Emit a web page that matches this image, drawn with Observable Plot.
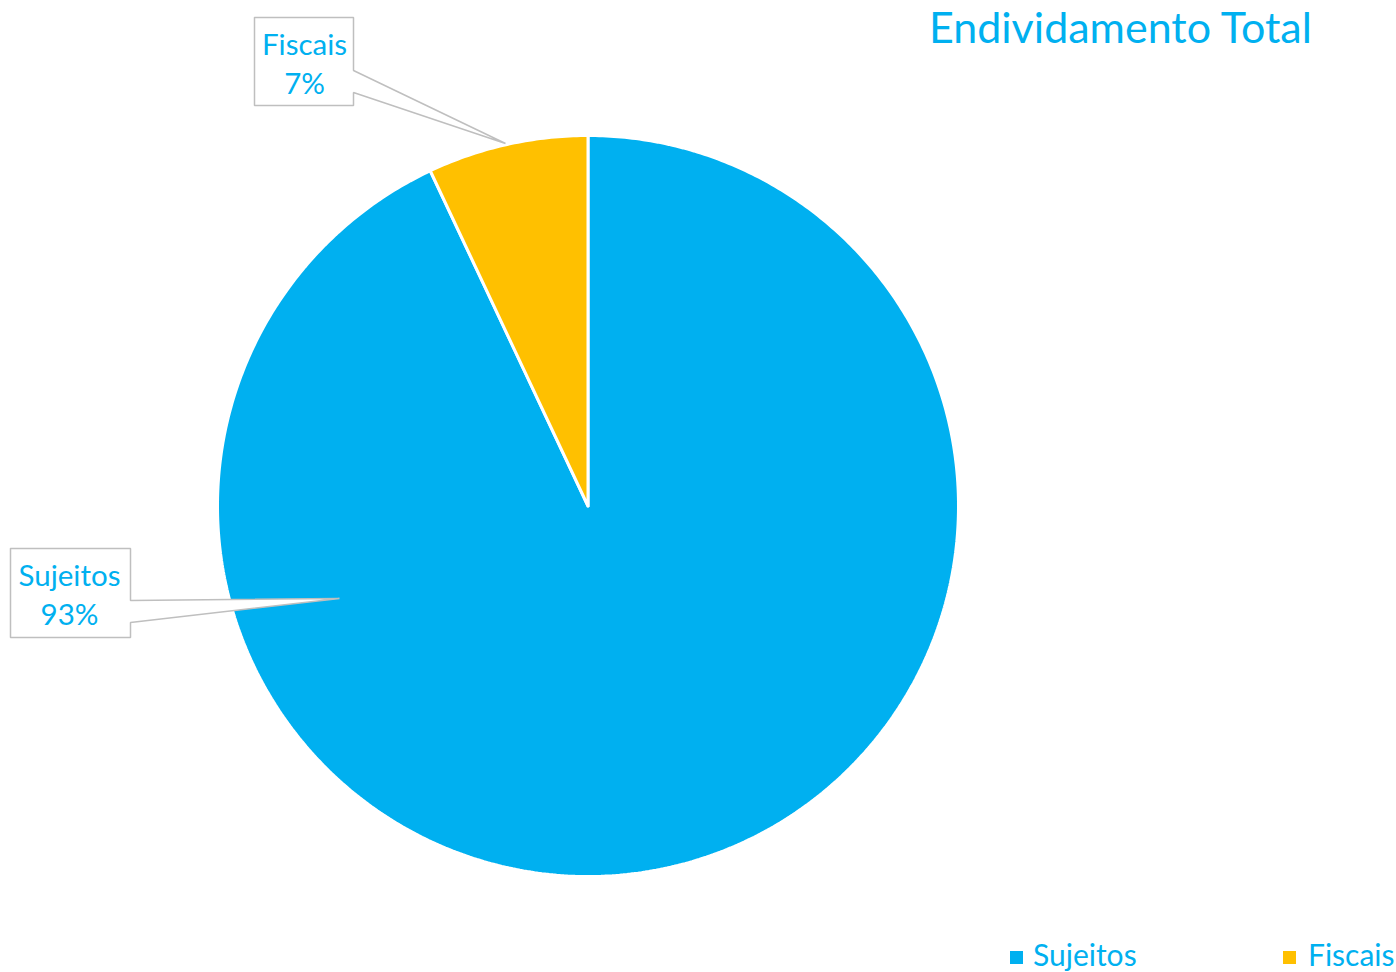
<!DOCTYPE html>
<html>
<head>
<meta charset="utf-8">
<script src="https://cdn.jsdelivr.net/npm/d3@7"></script>
<script src="https://cdn.jsdelivr.net/npm/@observablehq/plot@0.6"></script>
<style>
  html, body { margin: 0; padding: 0; background: #fff; }
  #wrap { position: relative; width: 1396px; height: 972px; font-family: Lato, "Open Sans", sans-serif; }
  #title { position: absolute; left: 929px; top: 1px; font-size: 43px; color: #00B0F0; white-space: nowrap; }
  #legend { position: absolute; left: 0; top: 936px; font-size: 30px; color: #00B0F0; white-space: nowrap; }
  .sw { position: absolute; width: 13px; height: 13px; top: 15px; }
  .lt { position: absolute; top: 0; }
</style>
</head>
<body>
<div id="wrap">
  <div id="chart"></div>
  <div id="title"></div>
  <div id="legend"></div>
</div>
<script>
const categories = ["Sujeitos", "Fiscais"];
const values = [93, 7];
const labels = ["93%", "7%"];
const colors = ["#00B0F0", "#FFC000"];
const titleText = "Endividamento Total";

const W = 1396, H = 972;
const cx = 587.5, cy = 505.5, R = 370.5;
// data units: pie radius = 1, y up
const X = px => (px - cx) / R;
const Y = py => (cy - py) / R;

const total = d3.sum(values);
const slices = [];
let acc = 0;
values.forEach((v, i) => {
  const a0 = acc / total * 2 * Math.PI;
  acc += v;
  const a1 = acc / total * 2 * Math.PI;
  const pts = [{x: 0, y: 0}];
  const n = Math.max(2, Math.ceil((a1 - a0) / 0.01));
  for (let k = 0; k <= n; k++) {
    const a = a0 + (a1 - a0) * k / n;
    pts.push({x: Math.sin(a), y: Math.cos(a)});
  }
  pts.push({x: 0, y: 0});
  slices.push({name: categories[i], color: colors[i], pts});
});

// callout boxes (label boxes with pointer)
const callouts = [
  {name: "Fiscais", poly: [[254,17],[353,17],[353,70],[505,143],[353,92],[353,105],[254,105],[254,17]], tx: 304, ty1: 54, ty2: 93},
  {name: "Sujeitos", poly: [[10,548],[130,548],[130,600],[339,598],[130,622],[130,637],[10,637],[10,548]], tx: 69, ty1: 585, ty2: 624}
];

const marks = [];
slices.forEach(s => {
  marks.push(Plot.line(s.pts, {x: "x", y: "y", fill: s.color, stroke: "white", strokeWidth: 3, strokeLinejoin: "miter", curve: "linear"}));
});
callouts.forEach(c => {
  const pts = c.poly.map(([px, py]) => ({x: X(px), y: Y(py)}));
  marks.push(Plot.line(pts, {x: "x", y: "y", fill: "white", stroke: "#BFBFBF", strokeWidth: 1.5, strokeLinejoin: "miter"}));
});
const textData = callouts.flatMap(c => {
  const i = categories.indexOf(c.name);
  return [
    {x: X(c.tx), y: Y(c.ty1), t: categories[i]},
    {x: X(c.tx), y: Y(c.ty2), t: labels[i]}
  ];
});
marks.push(Plot.text(textData, {x: "x", y: "y", text: "t", fill: "#00B0F0", fontSize: 29.5, textAnchor: "middle", lineAnchor: "bottom", fontFamily: "Lato, 'Open Sans', sans-serif"}));

const chart = Plot.plot({
  width: W, height: H,
  margin: 0,
  x: {domain: [X(0), X(W)], range: [0, W], axis: null},
  y: {domain: [Y(H), Y(0)], range: [H, 0], axis: null},
  style: {background: "white", overflow: "visible"},
  marks
});
document.getElementById("chart").appendChild(chart);

document.getElementById("title").textContent = titleText;
const leg = document.getElementById("legend");
const swX = [1010, 1283], txX = [1033, 1308];
categories.forEach((c, i) => {
  const sw = document.createElement("span");
  sw.className = "sw";
  sw.style.left = swX[i] + "px";
  sw.style.background = colors[i];
  leg.appendChild(sw);
  const t = document.createElement("span");
  t.className = "lt";
  t.style.left = txX[i] + "px";
  t.textContent = c;
  leg.appendChild(t);
});
</script>
</body>
</html>
